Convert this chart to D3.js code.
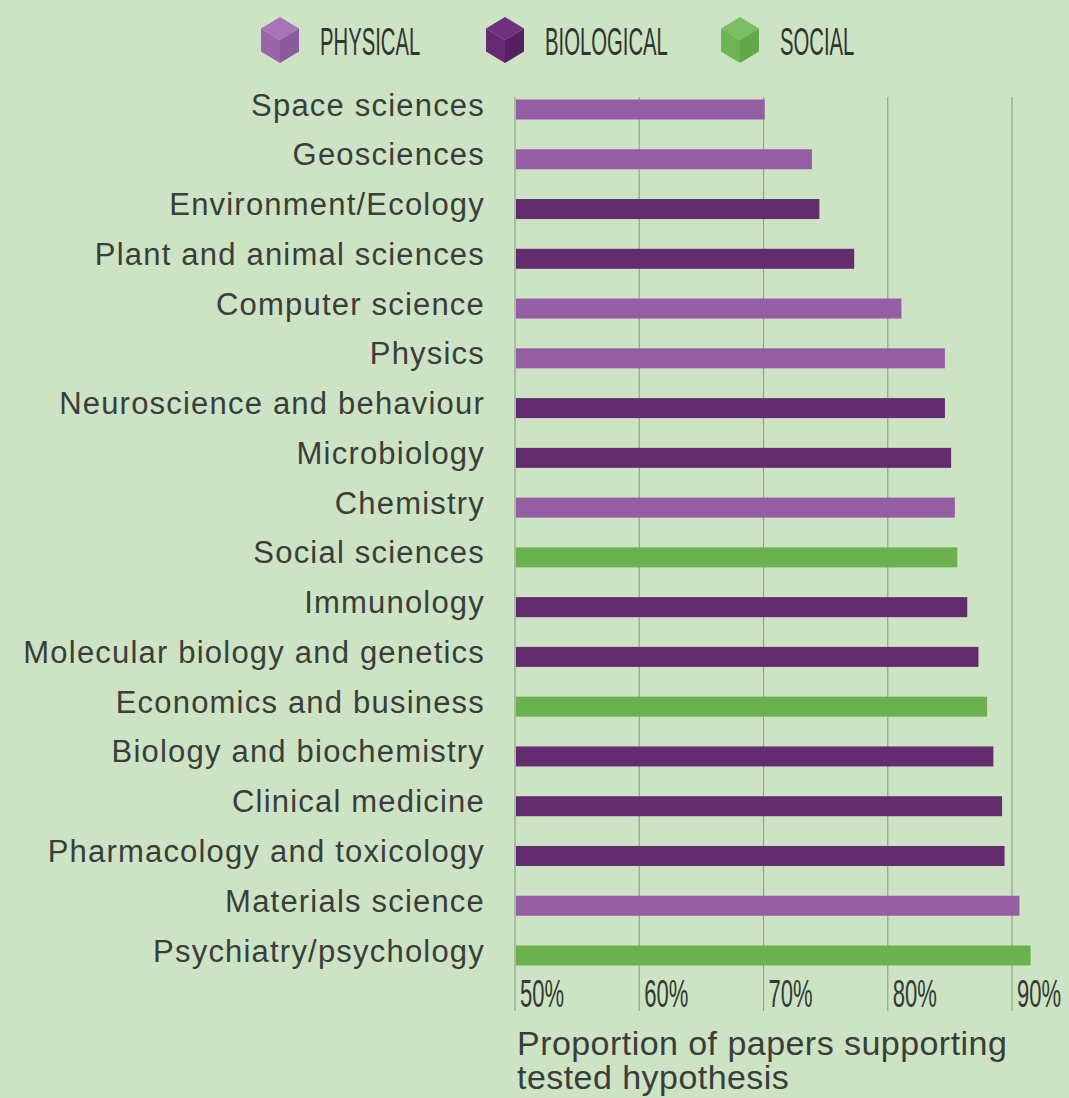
<!DOCTYPE html>
<html>
<head>
<meta charset="utf-8">
<script src="https://cdn.jsdelivr.net/npm/d3@7"></script>
<style>
  html, body { margin: 0; padding: 0; background: #cde4c4; }
  svg { display: block; }
</style>
</head>
<body>
<div id="chart"></div>
<script>
// data, top to bottom
const FIELDS = ["Space sciences", "Geosciences", "Environment/Ecology", "Plant and animal sciences",
    "Computer science", "Physics", "Neuroscience and behaviour", "Microbiology", "Chemistry",
    "Social sciences", "Immunology", "Molecular biology and genetics", "Economics and business",
    "Biology and biochemistry", "Clinical medicine", "Pharmacology and toxicology",
    "Materials science", "Psychiatry/psychology"]
const GROUPS = ["Physical", "Physical", "Biological", "Biological", "Physical", "Physical",
    "Biological", "Biological", "Physical", "Social", "Biological", "Biological", "Social",
    "Biological", "Biological", "Biological", "Physical", "Social"]
const SUPPORT = [70.1, 73.9, 74.5, 77.3, 81.1, 84.6, 84.6, 85.1, 85.4, 85.6, 86.4, 87.3,
    88.0, 88.5, 89.2, 89.4, 90.6, 91.5]
const TICKS = [50, 60, 70, 80, 90]
const LEGEND = ["Physical", "Biological", "Social"]

const WIDTH = 1069, HEIGHT = 1098
const SANS = "Liberation Sans, Arial, Helvetica, sans-serif"

// colours per group: bar, and the three cube faces (top, left, right)
const COLORS = d3.scaleOrdinal()
    .domain(LEGEND)
    .range(["#945ea4", "#622c6f", "#6bb24f"])
const CUBE = {
    "Physical": ["#a874b8", "#9a66aa", "#8c5a9c"],
    "Biological": ["#70307c", "#652a71", "#561f61"],
    "Social": ["#7cbc62", "#6db453", "#62a84a"]
}

const svg = d3.select("#chart")
    .append("svg")
    .attr("width", WIDTH)
    .attr("height", HEIGHT)

svg.append("rect")
    .attr("width", WIDTH)
    .attr("height", HEIGHT)
    .attr("fill", "#cde4c4")

const x = d3.scaleLinear()
    .domain([50, 90])
    .range([515, 1012])

const y = d3.scalePoint()
    .domain(FIELDS)
    .range([109.5, 955.5])

const BAR_H = 20

// gridlines
svg.append("g")
    .selectAll("line")
    .data(TICKS)
    .join("line")
    .attr("x1", d => x(d))
    .attr("x2", d => x(d))
    .attr("y1", 97)
    .attr("y2", 1011)
    .attr("stroke", "#8fa58b")
    .attr("stroke-width", 1.2)

// tick labels (condensed look by squeezing the text)
svg.append("g")
    .selectAll("text")
    .data(TICKS)
    .join("text")
    .attr("transform", d => "translate(" + (x(d) + 5) + ",1007) scale(0.58,1)")
    .attr("font-family", SANS)
    .attr("font-size", 38)
    .attr("fill", "#343a34")
    .text(d => d + "%")

// bars
svg.append("g")
    .selectAll("rect")
    .data(FIELDS)
    .join("rect")
    .attr("x", x(50) + 1)
    .attr("y", d => y(d) - BAR_H / 2)
    .attr("width", (d, i) => x(SUPPORT[i]) - x(50) - 1)
    .attr("height", BAR_H)
    .attr("fill", (d, i) => COLORS(GROUPS[i]))

// category labels
svg.append("g")
    .selectAll("text")
    .data(FIELDS)
    .join("text")
    .attr("x", 485)
    .attr("y", d => y(d) + 6)
    .attr("text-anchor", "end")
    .attr("font-family", SANS)
    .attr("font-size", 31)
    .attr("letter-spacing", 1.2)
    .attr("fill", "#3a3d3a")
    .text(d => d)

// axis title
const title = svg.append("text")
    .attr("font-family", SANS)
    .attr("font-size", 34)
    .attr("letter-spacing", 0.45)
    .attr("fill", "#3a3d3a")
title.append("tspan").attr("x", 517).attr("y", 1055).text("Proportion of papers supporting")
title.append("tspan").attr("x", 517).attr("y", 1089).text("tested hypothesis")

// legend with cube icons
const legendX = [280, 505, 740]
const leg = svg.append("g")
    .selectAll("g")
    .data(LEGEND)
    .join("g")
    .attr("transform", (d, i) => "translate(" + legendX[i] + ",40)")

const R = 23, W = 19
leg.append("path")
    .attr("d", `M0,${-R} L${W},${-R / 2} L0,0 L${-W},${-R / 2} Z`)
    .attr("fill", d => CUBE[d][0])
leg.append("path")
    .attr("d", `M${-W},${-R / 2} L0,0 L0,${R} L${-W},${R / 2} Z`)
    .attr("fill", d => CUBE[d][1])
leg.append("path")
    .attr("d", `M${W},${-R / 2} L0,0 L0,${R} L${W},${R / 2} Z`)
    .attr("fill", d => CUBE[d][2])

leg.append("text")
    .attr("transform", "translate(40,15) scale(0.52,1)")
    .attr("font-family", SANS)
    .attr("font-size", 39)
    .attr("fill", "#2f352f")
    .text(d => d.toUpperCase())
</script>
</body>
</html>
